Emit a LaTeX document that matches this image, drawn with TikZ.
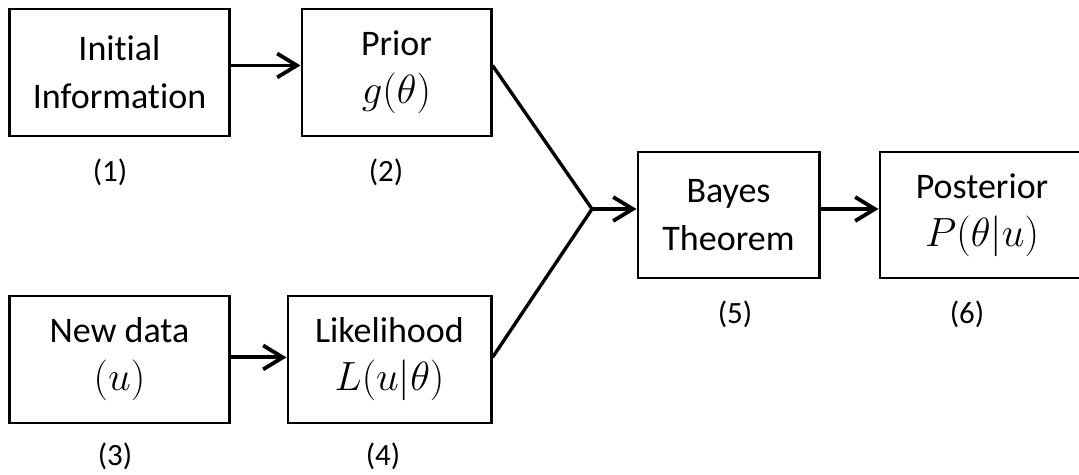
\RequirePackage{fix-cm}
\documentclass[tikz,border=0pt]{standalone}
\usepackage{fontspec}
\setmainfont{Carlito}[Ligatures=NoCommon]
\usetikzlibrary{arrows.meta, positioning, calc}

\newcommand{\boxfont}{\fontsize{25.6}{34.1}\selectfont}
\newcommand{\numfont}{\fontsize{22}{26}\selectfont}
\newcommand{\mathline}[1]{{\fontsize{29}{34.1}\selectfont$#1$}}

\tikzset{
  blockbox/.style={draw, line width=2.1pt, inner sep=0pt, minimum height=3.175cm, align=center, font=\boxfont},
  numlabel/.style={inner sep=0pt, font=\numfont},
  flow/.style={line width=2.7pt, -{Straight Barb[length=14pt, width=17pt, line width=2.7pt]}},
  link/.style={line width=2.4pt, line join=miter}
}

\begin{document}
\begin{tikzpicture}[x=0.025cm, y=-0.025cm]
  \clip (0,0) rectangle (1079,474);

  % top row
  \node[blockbox, minimum width=5.475cm] (init) at (119.5,72.5) {Initial\\Information};
  \node[blockbox, minimum width=4.725cm] (prior) at (396.5,72.5) {Prior\\\mathline{g(\theta)}};

  % bottom row
  \node[blockbox, minimum width=5.475cm] (newdata) at (119.5,359.5) {New data\\\mathline{(u)}};
  \node[blockbox, minimum width=5.075cm] (lik) at (389.5,359.5) {Likelihood\\\mathline{L(u|\theta)}};

  % right part
  \node[blockbox, minimum width=4.525cm, minimum height=3.15cm] (bayes) at (728.5,215) {Bayes\\Theorem};
  \node[blockbox, minimum width=5.1cm, minimum height=3.15cm] (post) at (982,215) {Posterior\\\mathline{P(\theta|u)}};

  % step numbers
  \node[numlabel] (lab1) at (110,172) {(1)};
  \node[numlabel] (lab2) at (386,172) {(2)};
  \node[numlabel] (lab3) at (115,456) {(3)};
  \node[numlabel] (lab4) at (383,456) {(4)};
  \node[numlabel] (lab5) at (735,314) {(5)};
  \node[numlabel] (lab6) at (967,314) {(6)};

  % connectors
  \coordinate (join) at (592,209);
  \draw[flow] ([yshift=5pt]init.east) -- ([yshift=5pt]prior.west);
  \draw[flow] ([yshift=1.5pt]newdata.east) -- ([yshift=1.5pt]lik.west);
  \draw[link] ([yshift=5pt]prior.east) -- (join) -- ([yshift=1.5pt]lik.east);
  \draw[flow] (join) -- (join -| bayes.west);
  \draw[flow] (join -| bayes.east) -- (join -| post.west);
\end{tikzpicture}
\end{document}
